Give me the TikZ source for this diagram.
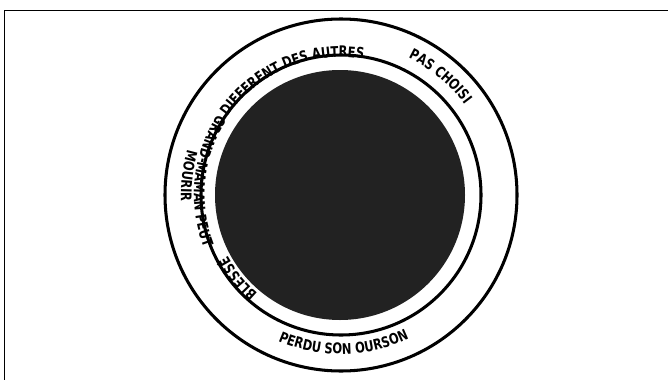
\documentclass[tikz,border=0pt]{standalone}
\usepackage{fontspec}
\setmainfont{DejaVu Sans Condensed}[FakeStretch=0.87]
\usetikzlibrary{decorations.text}
\definecolor{diskgray}{HTML}{222222}
\newcommand{\ringfont}{\fontsize{12.5}{12.5}\selectfont\bfseries}
\tikzset{
  ring/.style={line width=2.6pt},
  ringtext/.style={decorate, decoration={text along path, text={|\ringfont|#1}, text align=center}}
}
\begin{document}
\begin{tikzpicture}[x=0.03cm,y=0.03cm]
    \clip (0,0) rectangle (668,379);
    \draw[line width=1.6pt] (4.5,-20) -- (4.5,368.5) -- (700,368.5);
    \coordinate (c) at (341,184);
    \draw[ring] (c) circle[radius=176];
    \draw[ring] (c) circle[radius=140];
    % outer ring
    \path[ringtext={PAS CHOISI}] (c) ++(80:153) arc[start angle=80, end angle=20, radius=153];
    \path[ringtext={MOURIR}] (c) ++(150:160) arc[start angle=150, end angle=196, radius=160];
    \path[ringtext={PERDU SON OURSON}] (c) ++(230:159) arc[start angle=230, end angle=312, radius=159];
    % inner ring
    \path[ringtext={DIFFERENT DES AUTRES}] (c) ++(163:138) arc[start angle=163, end angle=63, radius=138];
    \path[ringtext={GRAND-MAMAN PEUT}] (c) ++(125:147) arc[start angle=125, end angle=223, radius=147];
    \path[ringtext={BLESSÉ}] (c) ++(245:129) arc[start angle=245, end angle=193, radius=129];
    \fill[diskgray] (340,184) circle[radius=125];
\end{tikzpicture}
\end{document}
